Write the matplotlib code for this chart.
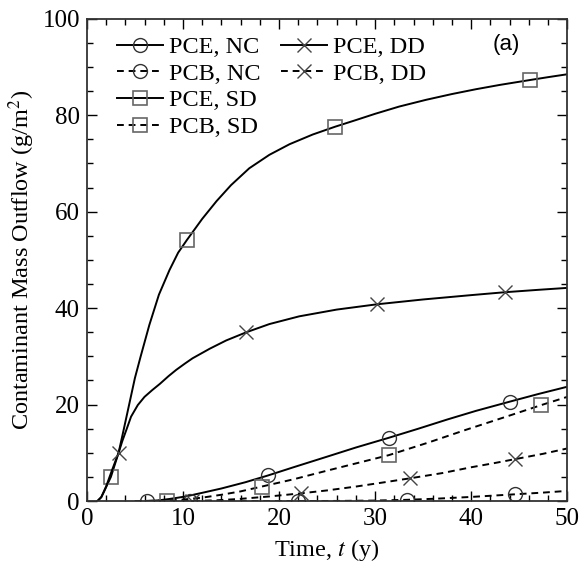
import numpy as np
import matplotlib.pyplot as plt
from matplotlib.lines import Line2D

plt.rcParams['font.family'] = ['Liberation Serif', 'DejaVu Serif']
plt.rcParams['mathtext.fontset'] = 'stix'

## Curve data (t in years, outflow in g/m^2).
## *_mt are the t positions carrying a marker.
pce_nc_t = [6.3, 7.5, 8.5, 9.5, 10.4, 12.0, 14.0, 16.5, 18.85, 21.5, 25.0, 28.0, 31.4, 34.5, 37.5, 40.5, 44.0, 47.0, 50.0]
pce_nc_y = [0.0, 0.15, 0.4, 0.7, 1.0, 1.7, 2.6, 3.9, 5.3, 7.0, 9.2, 11.1, 13.1, 15.0, 16.9, 18.7, 20.6, 22.2, 23.7]
pce_nc_mt = [6.3, 18.85, 31.4, 44.0]

pcb_nc_t = [5.0, 10.7, 16.0, 22.0, 26.0, 30.0, 33.3, 36.5, 40.0, 42.5, 44.6, 47.5, 50.0]
pcb_nc_y = [0.0, 0.0, 0.0, 0.0, 0.02, 0.1, 0.25, 0.5, 0.85, 1.15, 1.4, 1.75, 2.1]
pcb_nc_mt = [10.7, 22.0, 33.3, 44.6]

pce_sd_t = [1.1, 1.5, 1.8, 2.1, 2.5, 2.9, 3.3, 3.8, 4.4, 5.0, 5.6, 6.5, 7.5, 8.6, 9.5, 10.4, 12.0, 13.5, 15.0,
            16.9, 19.0, 21.1, 23.5, 25.8, 28.0, 30.0, 32.5, 35.3, 38.0, 40.5, 43.0, 46.1, 48.0, 50.0]
pce_sd_y = [0.0, 0.8, 2.0, 3.3, 5.0, 7.5, 10.0, 14.5, 20.0, 25.5, 30.0, 36.5, 42.8, 47.9, 51.5, 54.1, 58.5, 62.2, 65.5,
            69.0, 71.8, 74.0, 76.0, 77.6, 79.0, 80.3, 81.8, 83.2, 84.4, 85.4, 86.3, 87.3, 87.9, 88.5]
pce_sd_mt = [2.5, 10.4, 25.8, 46.1]

pcb_sd_t = [5.0, 8.3, 10.0, 12.0, 14.0, 16.0, 18.2, 21.5, 25.0, 28.0, 31.4, 35.5, 39.5, 43.5, 47.3, 50.0]
pcb_sd_y = [0.0, 0.1, 0.3, 0.7, 1.3, 2.0, 3.0, 4.5, 6.3, 7.8, 9.5, 12.1, 14.8, 17.4, 19.9, 21.6]
pcb_sd_mt = [8.3, 18.2, 31.4, 47.3]

pce_dd_t = [1.1, 1.5, 2.0, 2.6, 3.3, 3.7, 4.1, 4.6, 5.3, 6.0, 6.8, 7.6, 8.5, 9.3, 10.2, 11.0, 12.8, 14.5,
            16.6, 19.0, 22.1, 26.0, 30.2, 35.0, 40.0, 43.5, 47.0, 50.0]
pce_dd_y = [0.0, 0.8, 3.0, 6.3, 10.0, 12.5, 14.7, 17.5, 19.9, 21.6, 23.0, 24.3, 25.9, 27.2, 28.5, 29.6, 31.6, 33.3,
            35.0, 36.7, 38.3, 39.7, 40.8, 41.8, 42.7, 43.3, 43.8, 44.2]
pce_dd_mt = [3.3, 16.6, 30.2, 43.5]

pcb_dd_t = [5.0, 10.9, 13.5, 16.0, 19.0, 22.3, 25.0, 28.0, 31.0, 33.6, 37.0, 40.0, 42.5, 44.6, 47.5, 50.0]
pcb_dd_y = [0.0, 0.0, 0.15, 0.45, 0.95, 1.6, 2.2, 3.0, 3.9, 4.7, 5.8, 7.0, 7.9, 8.7, 9.8, 10.9]
pcb_dd_mt = [10.9, 22.3, 33.6, 44.6]

dash = (0, (3.5, 2.5))
circ = dict(marker='o', mfc='none', mec='#333333', ms=10, mew=1.0)
sqr = dict(marker='s', mfc='none', mec='#666666', ms=10.5, mew=1.2)
xx = dict(marker='x', mfc='none', mec='#444444', ms=10.5, mew=1.0)


def marks(t, mt):
    return [t.index(v) for v in mt]


fig = plt.figure(figsize=(5.83, 5.70), dpi=100)
ax = fig.add_axes([0.149, 0.121, 0.824, 0.846])

l1, = ax.plot(pce_nc_t, pce_nc_y, 'k-', lw=1.4, markevery=marks(pce_nc_t, pce_nc_mt), **circ)
l2, = ax.plot(pcb_nc_t, pcb_nc_y, 'k', ls=dash, lw=1.4, markevery=marks(pcb_nc_t, pcb_nc_mt), **circ)
l3, = ax.plot(pce_sd_t, pce_sd_y, 'k-', lw=1.4, markevery=marks(pce_sd_t, pce_sd_mt), **sqr)
l4, = ax.plot(pcb_sd_t, pcb_sd_y, 'k', ls=dash, lw=1.4, markevery=marks(pcb_sd_t, pcb_sd_mt), **sqr)
l5, = ax.plot(pce_dd_t, pce_dd_y, 'k-', lw=1.4, markevery=marks(pce_dd_t, pce_dd_mt), **xx)
l6, = ax.plot(pcb_dd_t, pcb_dd_y, 'k', ls=dash, lw=1.4, markevery=marks(pcb_dd_t, pcb_dd_mt), **xx)

ax.set_xlim(0, 50)
ax.set_ylim(0, 100)
ax.set_xticks(np.arange(0, 51, 10))
ax.set_xticks(np.arange(0, 51, 2), minor=True)
ax.set_yticks(np.arange(0, 101, 20))
ax.set_yticks(np.arange(0, 101, 5), minor=True)
ax.tick_params(which='both', direction='in', top=True, right=True, labelsize=18, pad=5)
ax.tick_params(which='major', length=7, width=1.0)
ax.tick_params(which='minor', length=4, width=1.0)
for s in ax.spines.values():
    s.set_linewidth(1.3)
    s.set_color('#333333')

ax.set_xlabel('Time, $\\mathit{t}$ (y)', fontsize=17.5, labelpad=5)
ax.set_ylabel('Contaminant Mass Outflow (g/m$^2$)', fontsize=17.5, labelpad=4)

ax.text(0.873, 0.946, '(a)', transform=ax.transAxes, fontsize=16,
        family='Liberation Sans', ha='center', va='center')

blank = Line2D([], [], ls='none')
ax.legend([l1, l2, l3, l4, l5, l6, blank, blank],
          ['PCE, NC', 'PCB, NC', 'PCE, SD', 'PCB, SD', 'PCE, DD', 'PCB, DD', '', ''],
          ncol=2, loc='upper left', bbox_to_anchor=(0.062, 0.964), frameon=False,
          fontsize=17.5, handlelength=1.9, handletextpad=0.25, columnspacing=0.85,
          labelspacing=0.19, borderpad=0, borderaxespad=0)

fig.savefig('out.png', dpi=100)
